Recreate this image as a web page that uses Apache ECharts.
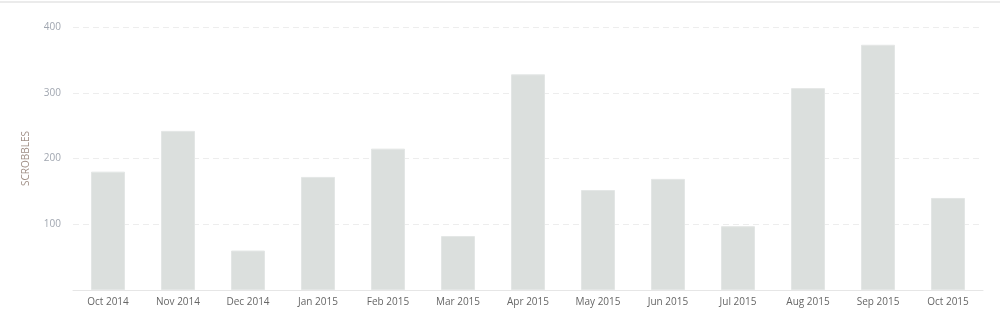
<!DOCTYPE html>
<html>
<head>
<meta charset="utf-8">
<script src="https://cdn.jsdelivr.net/npm/echarts@6/dist/echarts.min.js"></script>
<style>
html,body{margin:0;padding:0;background:#fff;}
#c{width:1000px;height:318px;}
</style>
</head>
<body>
<div id="c"></div>
<script>
const categories = ['Oct 2014','Nov 2014','Dec 2014','Jan 2015','Feb 2015','Mar 2015','Apr 2015','May 2015','Jun 2015','Jul 2015','Aug 2015','Sep 2015','Oct 2015'];
const scrobbles = [180, 242, 60, 172, 215, 82, 328, 152, 169, 97, 307, 373, 140];
const yAxisName = 'SCROBBLES';

const chart = echarts.init(document.getElementById('c'), null, {renderer:'canvas'});
chart.setOption({
  animation: false,
  backgroundColor: '#fff',
  textStyle: { fontFamily: 'Open Sans' },
  graphic: [{
    type: 'rect', left: 0, top: 1, shape: { width: 1000, height: 2 },
    style: { fill: '#ebebeb' }, silent: true
  }],
  grid: { left: 73, right: 17, top: 27, bottom: 28, containLabel: false },
  xAxis: {
    type: 'category',
    data: categories,
    axisLine: { show: true, lineStyle: { color: '#e6e6e6', width: 1 } },
    axisTick: { show: false },
    axisLabel: { color: '#666', fontSize: 10, margin: 7, fontFamily: 'Open Sans' },
    splitLine: { show: false }
  },
  yAxis: {
    type: 'value',
    min: 0, max: 400, interval: 100,
    name: yAxisName,
    nameLocation: 'middle',
    nameGap: 42,
    nameRotate: 90,
    nameTextStyle: { color: '#a08f86', fontSize: 10, fontFamily: 'Open Sans' },
    axisLine: { show: false },
    axisTick: { show: false },
    axisLabel: {
      color: '#a0a6b0', fontSize: 10, margin: 12, fontFamily: 'Open Sans',
      formatter: v => v === 0 ? '' : String(v)
    },
    splitLine: {
      show: true,
      lineStyle: { color: '#ededed', type: [6, 4], width: 1 },
      showMinLine: false
    }
  },
  series: [{
    type: 'bar',
    data: scrobbles,
    barWidth: 34,
    itemStyle: { color: '#dbdfdd', borderColor: '#e3e6e5', borderWidth: 1 }
  }]
});
</script>
</body>
</html>
